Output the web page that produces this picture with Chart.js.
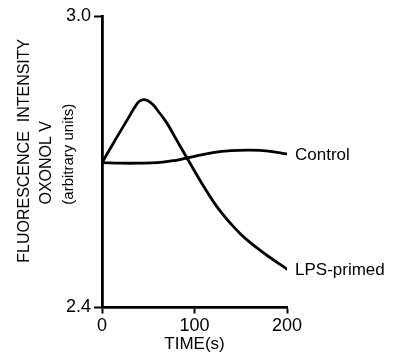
<!DOCTYPE html>
<html>
<head>
<meta charset="utf-8">
<script src="https://cdn.jsdelivr.net/npm/chart.js@4"></script>
<style>
  html, body { margin: 0; padding: 0; background: #fff; }
  #wrap { width: 401px; height: 357px; }
</style>
</head>
<body>
<div id="wrap"><canvas id="c" width="401" height="357"></canvas></div>
<script>
// ---- data ----
const controlTimes = [0, 20, 40, 60, 80, 90, 100, 120, 140, 160, 180, 200];
const controlValues = [2.698, 2.697, 2.697, 2.698, 2.703, 2.707, 2.711, 2.719, 2.723, 2.724, 2.722, 2.716];
const lpsTimes = [0, 10, 20, 30, 35, 40, 45, 50, 55, 60, 70, 80, 90, 100, 110, 120, 130, 140, 150, 160, 170, 180, 190, 200];
const lpsValues = [2.698, 2.731, 2.763, 2.795, 2.811, 2.824, 2.828, 2.825, 2.818, 2.806, 2.780, 2.747, 2.714, 2.681, 2.649, 2.619, 2.593, 2.571, 2.551, 2.534, 2.519, 2.505, 2.492, 2.479];
const seriesNames = ['Control', 'LPS-primed'];
const xTickValues = [0, 100, 200];
const yTickValues = [2.4, 3.0];
const yTitleLines = ['FLUORESCENCE  INTENSITY', 'OXONOL V', '(arbitrary units)'];
const xTitle = 'TIME(s)';

const FONT = "'Liberation Sans', Arial, sans-serif";

function toPoints(xs, ys) { return xs.map((x, i) => ({ x: x, y: ys[i] })); }

const seriesLabelPlugin = {
  id: 'seriesLabels',
  afterDatasetsDraw(chart) {
    const ctx = chart.ctx;
    ctx.save();
    ctx.fillStyle = '#000';
    ctx.font = '17px ' + FONT;
    ctx.textAlign = 'left';
    ctx.textBaseline = 'middle';
    chart.data.datasets.forEach((ds, i) => {
      const meta = chart.getDatasetMeta(i);
      const last = meta.data[meta.data.length - 1];
      ctx.fillText(ds.label, last.x + 8, last.y + 1.5);
    });
    ctx.restore();
  }
};

const yTitlePlugin = {
  id: 'yTitle',
  afterDraw(chart) {
    const ctx = chart.ctx;
    const area = chart.chartArea;
    const mid = (area.top + area.bottom) / 2;
    const specs = [
      { x: 25, dy: -11, size: 16 },
      { x: 47, dy: 1, size: 16 },
      { x: 69, dy: -7.5, size: 15 }
    ];
    ctx.save();
    ctx.fillStyle = '#000';
    ctx.textAlign = 'center';
    ctx.textBaseline = 'middle';
    yTitleLines.forEach((t, i) => {
      const s = specs[i];
      ctx.save();
      ctx.translate(s.x, mid + s.dy);
      ctx.rotate(-Math.PI / 2);
      ctx.font = s.size + 'px ' + FONT;
      ctx.fillText(t, 0, 0);
      ctx.restore();
    });
    ctx.restore();
  }
};

new Chart(document.getElementById('c'), {
  type: 'line',
  data: {
    datasets: [
      { label: seriesNames[0], data: toPoints(controlTimes, controlValues) },
      { label: seriesNames[1], data: toPoints(lpsTimes, lpsValues) }
    ]
  },
  options: {
    responsive: false,
    animation: false,
    devicePixelRatio: 1,
    layout: { padding: { left: 0, right: 114, top: 16, bottom: 0 } },
    elements: {
      line: { borderColor: '#000', borderWidth: 2.8, tension: 0.4, fill: false, borderCapStyle: 'round', borderJoinStyle: 'round' },
      point: { radius: 0, hoverRadius: 0 }
    },
    plugins: {
      legend: { display: false },
      tooltip: { enabled: false }
    },
    scales: {
      x: {
        type: 'linear',
        min: 0, max: 200,
        afterFit(scale) { scale.height = 49.5; },
        afterBuildTicks(scale) { scale.ticks = xTickValues.map(v => ({ value: v })); },
        border: { display: true, color: '#000', width: 2.8 },
        grid: { display: true, drawOnChartArea: false, drawTicks: true, tickLength: 6, tickWidth: 2, color: '#000' },
        ticks: { color: '#000', font: { family: FONT, size: 18 }, padding: 2, maxRotation: 0,
                 callback: v => String(v) },
        title: { display: true, text: xTitle, color: '#000', font: { family: FONT, size: 17 }, padding: { top: 0, bottom: 2 } }
      },
      y: {
        type: 'linear',
        min: 2.4, max: 3.0,
        afterFit(scale) { scale.width = 102; },
        afterBuildTicks(scale) { scale.ticks = yTickValues.map(v => ({ value: v })); },
        border: { display: true, color: '#000', width: 2.8 },
        grid: { display: true, drawOnChartArea: false, drawTicks: true, tickLength: 8, tickWidth: 2, color: '#000' },
        ticks: { color: '#000', font: { family: FONT, size: 18 }, padding: 3,
                 callback: v => Number(v).toFixed(1) }
      }
    }
  },
  plugins: [seriesLabelPlugin, yTitlePlugin]
});
</script>
</body>
</html>
